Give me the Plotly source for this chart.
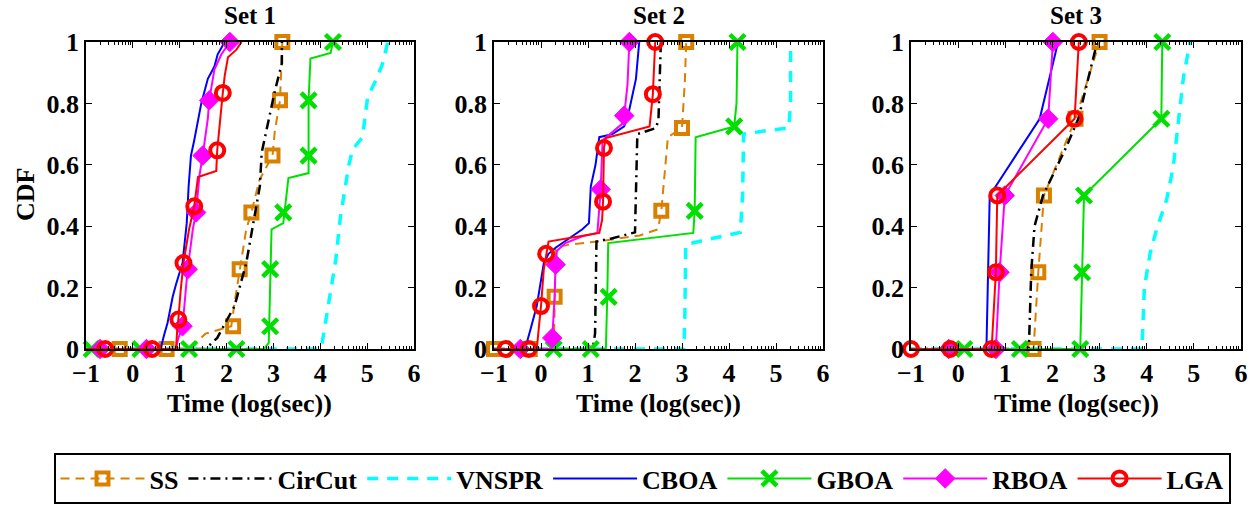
import plotly.graph_objects as go
import math

# ---------------- data ----------------
methods = ["SS", "CirCut", "VNSPR", "CBOA", "GBOA", "RBOA", "LGA"]
set_titles = ["Set 1", "Set 2", "Set 3"]
x_ticks = [-1, 0, 1, 2, 3, 4, 5, 6]
y_ticks = [0, 0.2, 0.4, 0.6, 0.8, 1]
y_ticktext = ["0", "0.2", "0.4", "0.6", "0.8", "1"]

# ---- Set 1 ----
ss1_x = [-1, 1.2, 1.55, 2.1, 2.17, 2.28, 2.42, 2.53, 2.7, 2.98, 3.03, 3.14, 3.19]
ss1_y = [0, 0, 0.05, 0.074, 0.15, 0.26, 0.39, 0.445, 0.55, 0.63, 0.71, 0.81, 1.0]
ss1_mx = [-0.28, 0.72, 2.14, 2.28, 2.53, 2.98, 3.14, 3.19]
ss1_my = [0, 0, 0.074, 0.26, 0.445, 0.63, 0.81, 1.0]

circut1_x = [-1, 1.55, 1.8, 2.17, 2.42, 2.6, 2.71, 2.75, 3.03, 3.18, 3.18]
circut1_y = [0, 0, 0.036, 0.14, 0.28, 0.43, 0.53, 0.64, 0.84, 0.93, 1.0]

vnspr1_x = [-1, 4.0, 4.04, 4.11, 4.33, 4.43, 4.61, 4.69, 4.9, 5.01, 5.2, 5.33, 5.44]
vnspr1_y = [0, 0, 0.02, 0.085, 0.29, 0.43, 0.6, 0.65, 0.69, 0.82, 0.88, 0.93, 1.0]

cboa1_x = [-1, 0.59, 0.67, 0.74, 0.85, 0.92, 1.06, 1.15, 1.19, 1.24, 1.31, 1.38, 1.46, 1.6, 1.74, 1.81, 1.96]
cboa1_y = [0, 0, 0.047, 0.085, 0.17, 0.21, 0.28, 0.41, 0.53, 0.63, 0.68, 0.74, 0.8, 0.88, 0.92, 0.96, 1.0]

gboa1_x = [-1, 2.8, 2.9, 2.93, 2.96, 3.21, 3.32, 3.75, 3.75, 3.79, 4.22, 4.27]
gboa1_y = [0, 0, 0.02, 0.26, 0.39, 0.41, 0.557, 0.573, 0.81, 0.946, 0.964, 1.0]
gboa1_mx = [-0.88, 0.16, 1.2, 2.21, 2.93, 2.93, 3.21, 3.75, 3.75, 4.27]
gboa1_my = [0, 0, 0, 0, 0.074, 0.26, 0.445, 0.63, 0.81, 1.0]

rboa1_x = [-1, 0.92, 0.96, 1.06, 1.17, 1.28, 1.35, 1.42, 1.49, 1.6, 1.63, 1.74, 1.89, 2.07]
rboa1_y = [0, 0, 0.03, 0.074, 0.26, 0.39, 0.445, 0.563, 0.63, 0.75, 0.81, 0.91, 0.96, 1.0]
rboa1_mx = [-0.7, 0.29, 1.06, 1.17, 1.35, 1.49, 1.63, 2.07]
rboa1_my = [0, 0, 0.074, 0.26, 0.445, 0.63, 0.81, 1.0]

lga1_x = [-1, 0.92, 0.95, 0.97, 1.02, 1.08, 1.2, 1.31, 1.39, 1.78, 1.8, 1.87, 1.92, 1.96, 2.03, 2.21, 2.32]
lga1_y = [0, 0, 0.07, 0.096, 0.19, 0.28, 0.39, 0.465, 0.56, 0.58, 0.647, 0.77, 0.834, 0.89, 0.95, 0.975, 1.0]
lga1_mx = [-0.59, 0.41, 0.97, 1.08, 1.31, 1.8, 1.92]
lga1_my = [0, 0, 0.096, 0.28, 0.465, 0.647, 0.834]

# ---- Set 2 ----
ss2_x = [-1, 0.25, 0.28, 0.29, 0.31, 0.6, 1.2, 2.1, 2.49, 2.56, 2.63, 2.7, 3.0, 3.06, 3.09]
ss2_y = [0, 0, 0.05, 0.17, 0.33, 0.34, 0.35, 0.37, 0.39, 0.45, 0.56, 0.69, 0.72, 0.87, 1.0]
ss2_mx = [-1.0, -0.24, 0.29, 2.56, 3.0, 3.09]
ss2_my = [0, 0, 0.17, 0.45, 0.72, 1.0]

circut2_x = [-1, 1.1, 1.15, 1.18, 1.5, 2.0, 2.05, 2.45, 2.5, 2.55]
circut2_y = [0, 0, 0.05, 0.35, 0.36, 0.38, 0.7, 0.72, 0.75, 1.0]

vnspr2_x = [-1, 3.04, 3.06, 3.08, 3.52, 4.24, 4.29, 4.31, 4.74, 5.27, 5.31, 5.31]
vnspr2_y = [0, 0, 0.1, 0.34, 0.356, 0.38, 0.5, 0.7, 0.71, 0.72, 0.8, 1.0]

cboa2_x = [-1, -0.34, -0.23, -0.09, 0.06, 0.16, 0.31, 0.59, 0.88, 1.02, 1.06, 1.16, 1.24, 1.52, 1.77, 1.88, 2.02, 2.09]
cboa2_y = [0, 0, 0.06, 0.14, 0.28, 0.31, 0.33, 0.36, 0.39, 0.41, 0.53, 0.6, 0.69, 0.7, 0.725, 0.78, 0.88, 1.0]

gboa2_x = [-1, 1.38, 1.41, 1.43, 3.24, 3.27, 3.29, 4.11, 4.16, 4.18]
gboa2_y = [0, 0, 0.17, 0.345, 0.378, 0.45, 0.69, 0.725, 0.8, 1.0]
gboa2_mx = [-0.55, 0.27, 1.06, 1.44, 3.27, 4.11, 4.18]
gboa2_my = [0, 0, 0, 0.17, 0.45, 0.725, 1.0]

rboa2_x = [-1, 0.22, 0.24, 0.29, 0.31, 0.34, 0.52, 0.88, 1.2, 1.27, 1.31, 1.74, 1.77, 1.84, 1.88]
rboa2_y = [0, 0, 0.036, 0.17, 0.275, 0.32, 0.345, 0.367, 0.378, 0.52, 0.68, 0.735, 0.76, 0.86, 1.0]
rboa2_mx = [-0.44, 0.24, 0.31, 1.27, 1.77, 1.88]
rboa2_my = [0, 0.036, 0.275, 0.52, 0.76, 1.0]

lga2_x = [-1, -0.09, -0.05, 0.0, 0.06, 0.11, 0.16, 1.24, 1.3, 1.32, 1.34, 1.38, 2.31, 2.34, 2.38, 2.43]
lga2_y = [0, 0, 0.063, 0.14, 0.26, 0.31, 0.35, 0.378, 0.42, 0.48, 0.655, 0.687, 0.725, 0.77, 0.83, 1.0]
lga2_mx = [-0.75, -0.26, 0.0, 0.11, 1.32, 1.34, 2.38, 2.43]
lga2_my = [0, 0, 0.14, 0.31, 0.48, 0.655, 0.83, 1.0]

# ---- Set 3 ----
ss3_x = [-1, 1.6, 1.7, 1.82, 2.49, 3.0]
ss3_y = [0, 0, 0.25, 0.5, 0.75, 1.0]
ss3_mx = [1.6, 1.7, 1.82, 2.49, 3.0]
ss3_my = [0, 0.25, 0.5, 0.75, 1.0]

circut3_x = [-1, 1.5, 1.55, 1.62, 1.8, 2.3, 2.55, 2.95]
circut3_y = [0, 0, 0.25, 0.4, 0.5, 0.66, 0.75, 1.0]

vnspr3_x = [-1, 3.9, 3.95, 4.07, 4.21, 4.42, 4.56, 4.67, 4.78, 4.92]
vnspr3_y = [0, 0, 0.2, 0.31, 0.39, 0.485, 0.59, 0.75, 0.886, 1.0]

cboa3_x = [-1, 0.6, 0.67, 1.73, 2.12]
cboa3_y = [0, 0, 0.5, 0.75, 1.0]

gboa3_x = [-1, 2.59, 2.63, 2.67, 4.31, 4.33]
gboa3_y = [0, 0, 0.25, 0.5, 0.75, 1.0]
gboa3_mx = [0.13, 1.31, 2.59, 2.63, 2.67, 4.31, 4.33]
gboa3_my = [0, 0, 0, 0.25, 0.5, 0.75, 1.0]

rboa3_x = [-1, 0.8, 0.88, 0.99, 1.91, 2.01]
rboa3_y = [0, 0, 0.25, 0.5, 0.75, 1.0]
rboa3_mx = [-0.2, 0.8, 0.88, 0.99, 1.91, 2.01]
rboa3_my = [0, 0, 0.25, 0.5, 0.75, 1.0]

lga3_x = [-1, 0.71, 0.8, 0.83, 2.47, 2.56]
lga3_y = [0, 0, 0.25, 0.5, 0.75, 1.0]
lga3_mx = [-1.0, -0.17, 0.71, 0.8, 0.83, 2.47, 2.56]
lga3_my = [0, 0, 0, 0.25, 0.5, 0.75, 1.0]

# ---------------- assemble ----------------
sets = [
    {"SS": (ss1_x, ss1_y, ss1_mx, ss1_my), "CirCut": (circut1_x, circut1_y, None, None),
     "VNSPR": (vnspr1_x, vnspr1_y, None, None), "CBOA": (cboa1_x, cboa1_y, None, None),
     "GBOA": (gboa1_x, gboa1_y, gboa1_mx, gboa1_my), "RBOA": (rboa1_x, rboa1_y, rboa1_mx, rboa1_my),
     "LGA": (lga1_x, lga1_y, lga1_mx, lga1_my)},
    {"SS": (ss2_x, ss2_y, ss2_mx, ss2_my), "CirCut": (circut2_x, circut2_y, None, None),
     "VNSPR": (vnspr2_x, vnspr2_y, None, None), "CBOA": (cboa2_x, cboa2_y, None, None),
     "GBOA": (gboa2_x, gboa2_y, gboa2_mx, gboa2_my), "RBOA": (rboa2_x, rboa2_y, rboa2_mx, rboa2_my),
     "LGA": (lga2_x, lga2_y, lga2_mx, lga2_my)},
    {"SS": (ss3_x, ss3_y, ss3_mx, ss3_my), "CirCut": (circut3_x, circut3_y, None, None),
     "VNSPR": (vnspr3_x, vnspr3_y, None, None), "CBOA": (cboa3_x, cboa3_y, None, None),
     "GBOA": (gboa3_x, gboa3_y, gboa3_mx, gboa3_my), "RBOA": (rboa3_x, rboa3_y, rboa3_mx, rboa3_my),
     "LGA": (lga3_x, lga3_y, lga3_mx, lga3_my)},
]

ORANGE, GREEN = "#D98000", "#00E000"
styles = {
    "SS": dict(line=dict(color=ORANGE, width=2, dash="9px,6px"),
               marker=dict(symbol="square-open", size=12, color=ORANGE, line=dict(width=4, color=ORANGE))),
    "CirCut": dict(line=dict(color="black", width=2.5, dash="10px,5px,2px,5px"), marker=None),
    "VNSPR": dict(line=dict(color="#00FFFF", width=3.5, dash="11px,9px"), marker=None),
    "CBOA": dict(line=dict(color="#0000FF", width=2), marker=None),
    "GBOA": dict(line=dict(color=GREEN, width=2),
                 marker=dict(symbol="x-thin-open", size=15, color=GREEN, line=dict(width=4.5, color=GREEN))),
    "RBOA": dict(line=dict(color="#FF00FF", width=2),
                 marker=dict(symbol="diamond", size=15, color="#FF00FF", line=dict(width=1, color="#FF00FF"))),
    "LGA": dict(line=dict(color="#FF0000", width=2),
                marker=dict(symbol="circle-open", size=14, color="#FF0000", line=dict(width=4, color="#FF0000"))),
}

W, H = 1258, 506
x_domains = [[86 / W, 414 / W], [494 / W, 823 / W], [911 / W, 1241 / W]]
y_domain = [1 - 349 / H, 1 - 42 / H]

FONT = "Liberation Serif"
fig = go.Figure()

for i, s in enumerate(sets):
    xa = "x" if i == 0 else f"x{i+1}"
    ya = "y" if i == 0 else f"y{i+1}"
    for m in methods:
        cx, cy, mx, my = s[m]
        st = styles[m]
        fig.add_trace(go.Scatter(x=cx, y=cy, mode="lines", line=st["line"], xaxis=xa, yaxis=ya,
                                 showlegend=False, hoverinfo="skip", cliponaxis=False))
        if mx is not None:
            fig.add_trace(go.Scatter(x=mx, y=my, mode="markers", marker=st["marker"], xaxis=xa, yaxis=ya,
                                     showlegend=False, cliponaxis=False))

# legend-only entries
for m in methods:
    st = styles[m]
    kw = dict(line=st["line"])
    mode = "lines"
    if st["marker"] is not None:
        kw["marker"] = st["marker"]
        mode = "lines+markers"
    fig.add_trace(go.Scatter(x=[None], y=[None], mode=mode, name=m, showlegend=True, **kw))

minor_vals = [k + math.log10(j) for k in range(-1, 6) for j in range(2, 10)]

tickfont = dict(family=FONT, size=26, color="black", weight="bold")
layout = dict(
    width=W, height=H,
    margin=dict(l=0, r=0, t=0, b=0, autoexpand=False),
    paper_bgcolor="white", plot_bgcolor="white",
    font=dict(family=FONT, color="black"),
    showlegend=True,
    legend=dict(orientation="h", x=642 / W, xanchor="center", y=1 - 453 / H, yanchor="top",
                bordercolor="black", borderwidth=2, bgcolor="white",
                font=dict(family=FONT, size=26, color="black", weight="bold"),
                itemwidth=84, tracegroupgap=0),
    annotations=[],
)
for i in range(3):
    xk = "xaxis" if i == 0 else f"xaxis{i+1}"
    yk = "yaxis" if i == 0 else f"yaxis{i+1}"
    xa_anchor = "y" if i == 0 else f"y{i+1}"
    ya_anchor = "x" if i == 0 else f"x{i+1}"
    layout[xk] = dict(domain=x_domains[i], anchor=xa_anchor, range=[-1, 6], tickmode="array", tickvals=x_ticks,
                      ticks="inside", ticklen=6, tickwidth=1, tickcolor="black",
                      showline=True, linecolor="black", linewidth=1.5, mirror="ticks",
                      showgrid=False, zeroline=False, tickfont=tickfont, automargin=False,
                      minor=dict(tickmode="array", tickvals=minor_vals, ticks="inside", ticklen=3,
                                 tickcolor="black", tickwidth=1, showgrid=False))
    layout[yk] = dict(domain=y_domain, anchor=ya_anchor, range=[0, 1], tickmode="array", tickvals=y_ticks,
                      ticktext=y_ticktext,
                      ticks="inside", ticklen=6, tickwidth=1, tickcolor="black",
                      showline=True, linecolor="black", linewidth=1.5, mirror="ticks",
                      showgrid=False, zeroline=False, tickfont=tickfont, automargin=False)
    cx = (x_domains[i][0] + x_domains[i][1]) / 2
    layout["annotations"].append(dict(text=set_titles[i], x=cx, y=1 - 15 / H, xref="paper", yref="paper",
                                      xanchor="center", yanchor="middle", showarrow=False,
                                      font=dict(family=FONT, size=25, color="black", weight="bold")))
    layout["annotations"].append(dict(text="Time (log(sec))", x=cx, y=1 - 403 / H, xref="paper", yref="paper",
                                      xanchor="center", yanchor="middle", showarrow=False,
                                      font=dict(family=FONT, size=26, color="black", weight="bold")))

layout["annotations"].append(dict(text="CDF", x=25 / W, y=1 - 195 / H, xref="paper", yref="paper",
                                  xanchor="center", yanchor="middle", textangle=-90, showarrow=False,
                                  font=dict(family=FONT, size=26, color="black", weight="bold")))

fig.update_layout(**layout)
fig.write_html("out.html", config={"displayModeBar": False},
               post_script="document.body.style.margin='0';")
